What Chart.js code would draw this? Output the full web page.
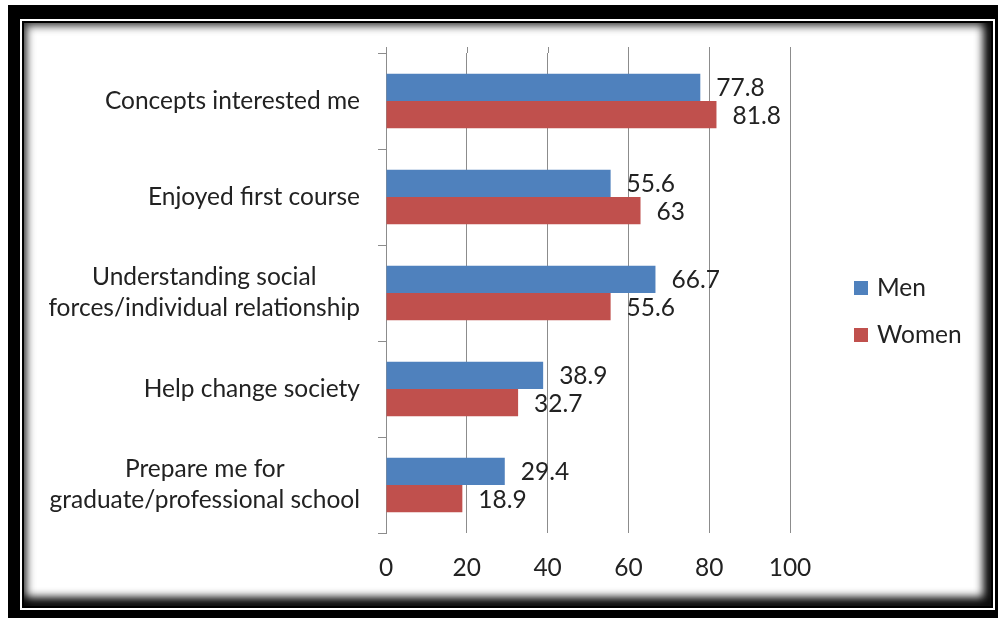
<!DOCTYPE html>
<html>
<head>
<meta charset="utf-8">
<script src="https://cdn.jsdelivr.net/npm/chart.js@4/dist/chart.umd.min.js"></script>
<style>
  html, body { margin: 0; padding: 0; background: #fff; }
  #wrap { position: relative; width: 999px; height: 618px; overflow: hidden; background: #fff; }
  #outer { position: absolute; left: 8px; top: 5px; width: 990px; height: 613px; background: #000; }
  #line { position: absolute; left: 20px; top: 19px; width: 971px; height: 587px; border: 2px solid #fff; background: #000; }
  #content { position: absolute; left: 24px; top: 23px; width: 967px; height: 583px; background: #fff;
     box-shadow: inset 3px 3px 8px 0px rgba(0,0,0,0.75), inset -6px -7px 8px 2px rgba(0,0,0,0.95); }
  canvas { position: absolute; left: 0; top: 0; }
</style>
</head>
<body>
<div id="wrap">
  <div id="outer"></div>
  <div id="line"></div>
  <div id="content"></div>
  <canvas id="c" width="999" height="618"></canvas>
</div>
<script>
const categories = [
  "Concepts interested me",
  "Enjoyed first course",
  ["Understanding social", "forces/individual relationship"],
  "Help change society",
  ["Prepare me for", "graduate/professional school"]
];
const menValues = [77.8, 55.6, 66.7, 38.9, 29.4];
const womenValues = [81.8, 63, 55.6, 32.7, 18.9];
const seriesNames = ["Men", "Women"];
const seriesColors = ["#4F81BD", "#C0504D"];
const xTicks = [0, 20, 40, 60, 80, 100];

const FONT = "Lato, 'Liberation Sans', sans-serif";
const FSIZE = 24.5;
const TXT = "#222222";
const GRID = "#8c8c8c";

const categoryLabels = {
  id: 'categoryLabels',
  afterDraw(chart) {
    const ctx = chart.ctx;
    const y = chart.scales.y;
    ctx.save();
    ctx.font = FSIZE + "px " + FONT;
    ctx.fillStyle = TXT;
    ctx.textBaseline = 'middle';
    ctx.textAlign = 'center';
    const right = y.right - 26;
    categories.forEach((c, i) => {
      const lines = Array.isArray(c) ? c : [c];
      const w = Math.max(...lines.map(l => ctx.measureText(l).width));
      const cx = right - w / 2;
      const cy = y.getPixelForValue(i);
      const lh = 31;
      lines.forEach((l, j) => {
        ctx.fillText(l, cx, cy + (j - (lines.length - 1) / 2) * lh);
      });
    });
    ctx.restore();
  }
};

const gridExtend = {
  id: 'gridExtend',
  afterDraw(chart) {
    const ctx = chart.ctx;
    const x = chart.scales.x;
    const top = chart.chartArea.top;
    ctx.save();
    ctx.strokeStyle = GRID;
    ctx.lineWidth = 1;
    xTicks.forEach(v => {
      const px = Math.round(x.getPixelForValue(v)) + 0.5;
      ctx.beginPath();
      ctx.moveTo(px, top - 6);
      ctx.lineTo(px, top);
      ctx.stroke();
    });
    ctx.restore();
  }
};

const valueLabels = {
  id: 'valueLabels',
  afterDatasetsDraw(chart) {
    const ctx = chart.ctx;
    ctx.save();
    ctx.font = FSIZE + "px " + FONT;
    ctx.fillStyle = TXT;
    ctx.textBaseline = 'middle';
    ctx.textAlign = 'left';
    chart.data.datasets.forEach((ds, di) => {
      const meta = chart.getDatasetMeta(di);
      meta.data.forEach((bar, i) => {
        ctx.fillText(String(ds.data[i]), bar.x + 16, bar.y + 1);
      });
    });
    ctx.restore();
  }
};

const customLegend = {
  id: 'customLegend',
  afterDraw(chart) {
    const ctx = chart.ctx;
    ctx.save();
    ctx.font = FSIZE + "px " + FONT;
    ctx.textBaseline = 'middle';
    ctx.textAlign = 'left';
    chart.data.datasets.forEach((ds, i) => {
      const cy = 288 + i * 47;
      ctx.fillStyle = ds.backgroundColor;
      ctx.fillRect(854, cy - 7, 14, 14);
      ctx.fillStyle = TXT;
      ctx.fillText(ds.label, 877, cy);
    });
    ctx.restore();
  }
};

new Chart(document.getElementById('c'), {
  type: 'bar',
  data: {
    labels: categories,
    datasets: [
      { label: seriesNames[0], data: menValues, backgroundColor: seriesColors[0] },
      { label: seriesNames[1], data: womenValues, backgroundColor: seriesColors[1] }
    ]
  },
  options: {
    indexAxis: 'y',
    responsive: false,
    animation: false,
    devicePixelRatio: 1,
    layout: { padding: { top: 53, right: 209, bottom: 35, left: 0 } },
    datasets: { bar: { categoryPercentage: 0.57, barPercentage: 1.0 } },
    plugins: { legend: { display: false }, tooltip: { enabled: false } },
    scales: {
      x: {
        min: 0, max: 100,
        afterBuildTicks(scale) { scale.ticks = xTicks.map(v => ({ value: v })); },
        afterFit(scale) { scale.height = 50; },
        grid: { color: GRID, drawTicks: false, lineWidth: 1 },
        border: { display: false },
        ticks: { padding: 20, color: TXT, font: { family: FONT, size: FSIZE } }
      },
      y: {
        afterFit(scale) { scale.width = 386; },
        grid: { offset: true, drawOnChartArea: false, color: GRID, tickLength: 8 },
        border: { display: true, color: GRID },
        ticks: { display: false }
      }
    }
  },
  plugins: [categoryLabels, gridExtend, valueLabels, customLegend]
});
</script>
</body>
</html>
